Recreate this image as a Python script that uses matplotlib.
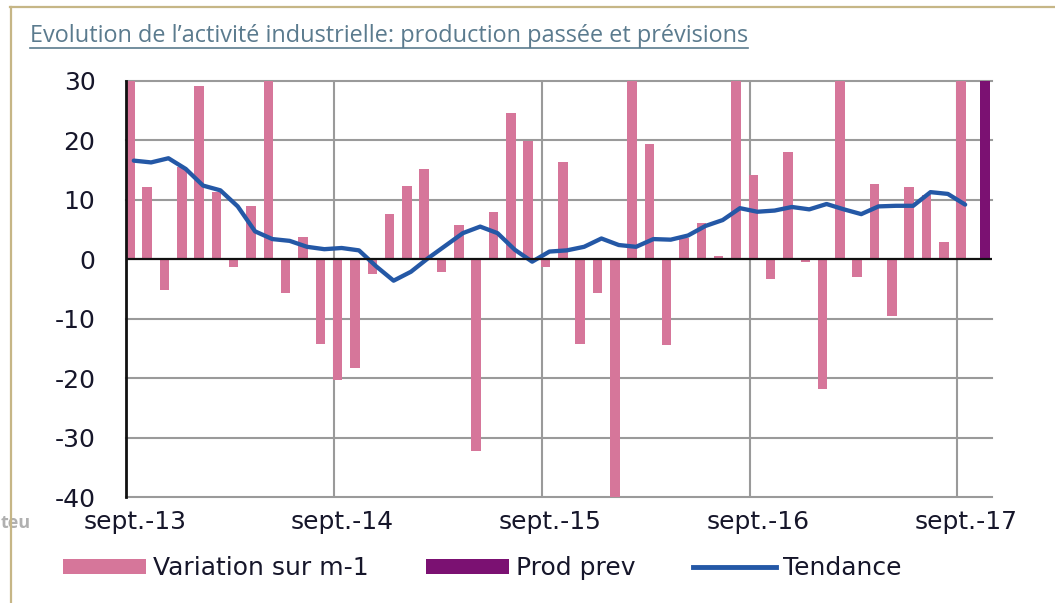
import numpy as np
import pandas as pd
import matplotlib
matplotlib.use("Agg")
import matplotlib.pyplot as plt
from matplotlib.patches import Patch
from matplotlib.lines import Line2D

# ---------------- data ----------------
months = pd.date_range("2013-09-01", periods=50, freq="MS")
tick_labels = ["sept.-13", "sept.-14", "sept.-15", "sept.-16", "sept.-17"]
tick_idx = [0, 12, 24, 36, 48]

variation = [34, 12.2, -5.2, 15.6, 29.1, 11.4, -1.3, 8.9, 34, -5.7,
             3.7, -14.2, -20.3, -18.3, -2.4, 7.6, 12.4, 15.2, -2.1, 5.7,
             -32.3, 8.0, 24.6, 19.9, -1.3, 16.3, -14.3, -5.7, -40.5, 34,
             19.4, -14.5, 3.5, 6.1, 0.5, 34, 14.2, -3.3, 18.1, -0.5,
             -21.9, 34, -2.9, 12.6, -9.6, 12.1, 10.8, 2.9, 34]
prod_prev = [35]          # forecast for the month after sept.-17
prod_prev_idx = [49]
tendance = [16.6, 16.3, 17.0, 15.2, 12.4, 11.6, 8.9, 4.7, 3.4, 3.1,
            2.1, 1.7, 1.9, 1.5, -1.2, -3.6, -2.1, 0.2, 2.3, 4.4,
            5.5, 4.4, 1.6, -0.4, 1.3, 1.5, 2.1, 3.5, 2.4, 2.1,
            3.4, 3.3, 4.0, 5.6, 6.6, 8.6, 8.0, 8.2, 8.8, 8.4,
            9.3, 8.4, 7.6, 8.9, 9.0, 9.0, 11.3, 11.0, 9.2]
y_ticks = [30, 20, 10, 0, -10, -20, -30, -40]

# ---------------- style ----------------
PINK = "#d6769a"
PURPLE = "#7b1172"
BLUE = "#2458a6"
GRID = "#9a9a9a"
TXT = "#16162a"
FONT = "DejaVu Sans"

W, H = 1055, 603
fig = plt.figure(figsize=(W / 100, H / 100), dpi=100)
fig.patch.set_facecolor("white")

ax = fig.add_axes([126 / W, (H - 497) / H, (992 - 126) / W, (497 - 81) / H])
ax.set_xlim(-0.5, len(months) - 0.5)
ax.set_ylim(-40, 30)

x = np.arange(len(variation))
ax.bar(x - 0.28, variation, width=0.55, color=PINK, zorder=3, linewidth=0)
ax.bar(np.array(prod_prev_idx) + 0.12, prod_prev, width=0.58, color=PURPLE,
       zorder=3, linewidth=0)
ax.plot(np.arange(len(tendance)) - 0.05, tendance, color=BLUE, lw=3.1,
        zorder=4, solid_capstyle="round", solid_joinstyle="round")

# grid
for yv in y_ticks:
    if yv == 0:
        continue
    ax.axhline(yv, color=GRID, lw=1.5, zorder=1, clip_on=False)
for xv in [11.5, 23.5, 35.5, 47.5]:
    ax.axvline(xv, color=GRID, lw=1.5, zorder=1)
ax.axhline(0, color="#111111", lw=1.6, zorder=5)

for s in ["top", "right", "bottom"]:
    ax.spines[s].set_visible(False)
ax.spines["left"].set_color("#111111")
ax.spines["left"].set_linewidth(2.0)
ax.spines["left"].set_zorder(6)

ax.set_yticks(y_ticks)
ax.set_yticklabels([str(v) for v in y_ticks])
ax.set_xticks(tick_idx)
ax.set_xticklabels(tick_labels)
ax.tick_params(axis="y", length=0, pad=22, labelsize=18, labelcolor=TXT)
ax.tick_params(axis="x", length=0, pad=9, labelsize=18, labelcolor=TXT)
for lab in ax.get_xticklabels() + ax.get_yticklabels():
    lab.set_family(FONT)

# legend
handles = [Patch(facecolor=PINK, edgecolor="none"),
           Patch(facecolor=PURPLE, edgecolor="none"),
           Line2D([], [], color=BLUE, lw=3.5)]
labels = ["Variation sur m-1", "Prod prev", "Tendance"]
fig.legend(handles, labels, loc="center left",
           bbox_to_anchor=(63 / W, 1 - 568 / H), ncol=3, frameon=False,
           borderpad=0, borderaxespad=0, handlelength=3.3, handleheight=0.56,
           handletextpad=0.3, columnspacing=2.3,
           prop={"family": FONT, "size": 18}, labelcolor=TXT)

# title (underlined)
TITLE_C = "#5b7b8e"
title = fig.text(30 / W, 1 - 36 / H,
                 "Evolution de l\u2019activit\u00e9 industrielle: production pass\u00e9e et pr\u00e9visions",
                 ha="left", va="center", fontsize=17, family="Open Sans",
                 color=TITLE_C)
fig.canvas.draw()
bb = title.get_window_extent()
target = 721
title.set_fontsize(17 * target / bb.width)
fig.canvas.draw()
bb = title.get_window_extent()
fig.add_artist(Line2D([bb.x0 / W, bb.x1 / W], [1 - 48 / H, 1 - 48 / H],
                      color=TITLE_C, lw=1.2, transform=fig.transFigure))

# outer frame (top and left borders)
FRAME = "#c6b686"
fig.add_artist(Line2D([10 / W, 1.0], [1 - 7 / H, 1 - 7 / H], color=FRAME,
                      lw=1.6, transform=fig.transFigure))
fig.add_artist(Line2D([11 / W, 11 / W], [0, 1 - 7 / H], color=FRAME,
                      lw=1.6, transform=fig.transFigure, zorder=3))

# partially hidden text at the left edge
fig.text(1 / W, 1 - 523 / H, "teu", ha="left", va="center",
         fontsize=13, family="Open Sans", weight="bold", color="#b0b0b0",
         zorder=1)

fig.savefig("out.png", dpi=100, facecolor="white")
